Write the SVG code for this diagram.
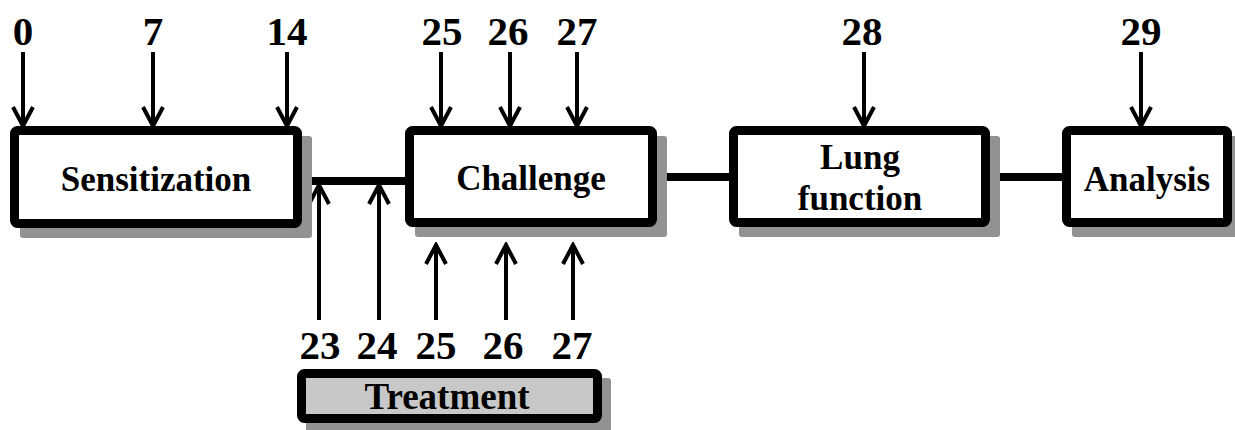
<svg xmlns="http://www.w3.org/2000/svg" width="1235" height="430" viewBox="0 0 1235 430">
<defs>
<style>
.box{fill:#fff;stroke:#000;stroke-width:9;stroke-linejoin:round}
.tbox{fill:#c8c8c8;stroke:#000;stroke-width:9;stroke-linejoin:round}
.shadow{fill:#929292}
.lbl{font-family:"Liberation Serif","Times New Roman",serif;font-weight:bold;font-size:35px;text-anchor:middle;fill:#000}
.num{font-family:"Liberation Serif","Times New Roman",serif;font-weight:bold;font-size:41px;text-anchor:middle;fill:#000}
.conn{stroke:#000;stroke-width:8;fill:none}
.arr{stroke:#000;stroke-width:4;fill:none;stroke-linejoin:miter}
</style>
<marker id="ah" viewBox="0 0 24 24" refX="21" refY="12" markerWidth="24" markerHeight="24" markerUnits="userSpaceOnUse" orient="auto">
<path d="M2,2 L21,12 L2,22" fill="none" stroke="#000" stroke-width="4"/>
</marker>
</defs>
<rect width="1235" height="430" fill="#fff"/>
<g id="connectors">
<line class="conn" x1="300" y1="181" x2="407" y2="181"/>
<line class="conn" x1="655" y1="177" x2="731" y2="177"/>
<line class="conn" x1="988" y1="177" x2="1064" y2="177"/>
<line class="arr" x1="23" y1="52" x2="23" y2="126" marker-end="url(#ah)"/>
<line class="arr" x1="153" y1="52" x2="153" y2="126" marker-end="url(#ah)"/>
<line class="arr" x1="287" y1="52" x2="287" y2="126" marker-end="url(#ah)"/>
<line class="arr" x1="441" y1="52" x2="441" y2="126" marker-end="url(#ah)"/>
<line class="arr" x1="510" y1="52" x2="510" y2="126" marker-end="url(#ah)"/>
<line class="arr" x1="577" y1="52" x2="577" y2="126" marker-end="url(#ah)"/>
<line class="arr" x1="864" y1="52" x2="864" y2="126" marker-end="url(#ah)"/>
<line class="arr" x1="1141" y1="52" x2="1141" y2="126" marker-end="url(#ah)"/>
<line class="arr" x1="319" y1="320" x2="319" y2="185" marker-end="url(#ah)"/>
<line class="arr" x1="379" y1="320" x2="379" y2="185" marker-end="url(#ah)"/>
<line class="arr" x1="436" y1="320" x2="436" y2="245" marker-end="url(#ah)"/>
<line class="arr" x1="506" y1="320" x2="506" y2="245" marker-end="url(#ah)"/>
<line class="arr" x1="573" y1="320" x2="573" y2="245" marker-end="url(#ah)"/>
</g>
<g id="labels">
<text class="num" x="23" y="45">0</text>
<text class="num" x="153" y="45">7</text>
<text class="num" x="287" y="45">14</text>
<text class="num" x="442" y="45">25</text>
<text class="num" x="508" y="45">26</text>
<text class="num" x="577" y="45">27</text>
<text class="num" x="862" y="45">28</text>
<text class="num" x="1141" y="45">29</text>
<text class="num" x="320" y="359">23</text>
<text class="num" x="377" y="359">24</text>
<text class="num" x="436" y="359">25</text>
<text class="num" x="503" y="359">26</text>
<text class="num" x="572" y="359">27</text>
</g>
<g id="sensitization">
<rect class="shadow" x="20" y="136" width="292" height="102" rx="3"/>
<rect class="box" x="14.5" y="130.5" width="283" height="93" rx="3"/>
<text class="lbl" x="156" y="191">Sensitization</text>
</g>
<g id="challenge">
<rect class="shadow" x="415" y="136" width="252" height="101" rx="3"/>
<rect class="box" x="409.5" y="130.5" width="243" height="92" rx="3"/>
<text class="lbl" x="531" y="190">Challenge</text>
</g>
<g id="lung-function">
<rect class="shadow" x="739" y="136" width="261" height="101" rx="3"/>
<rect class="box" x="733.5" y="130.5" width="252" height="92" rx="3"/>
<text class="lbl" x="860" y="169">Lung</text>
<text class="lbl" x="860" y="210">function</text>
</g>
<g id="analysis">
<rect class="shadow" x="1072" y="136" width="170" height="101" rx="3"/>
<rect class="box" x="1066.5" y="130.5" width="161" height="92" rx="3"/>
<text class="lbl" x="1147" y="191">Analysis</text>
</g>
<g id="treatment">
<rect class="shadow" x="306" y="378" width="305" height="54" rx="3"/>
<rect class="tbox" x="301.5" y="373.5" width="296" height="45" rx="3"/>
<text class="lbl" x="447" y="409" style="font-size:37px">Treatment</text>
</g>
</svg>
